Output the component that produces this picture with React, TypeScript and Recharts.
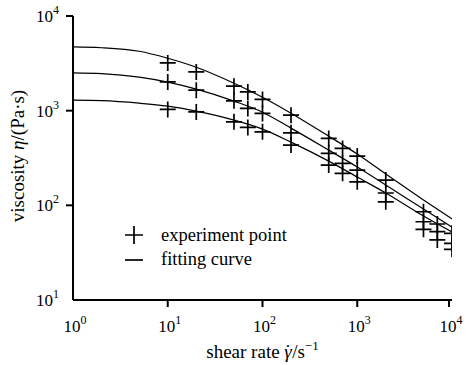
import { ComposedChart, Line, Scatter, XAxis, YAxis, Legend } from 'recharts'

// shear rates of the measured points (s^-1)
const shearRates = [10, 20, 50, 70, 100, 200, 500, 700, 1000, 2000, 5000, 7000, 10000]
const pointsHigh = [3194, 2567, 1813, 1579, 1313, 896, 509, 399, 331, 185, 85.6, 63.5, 50.6]
const pointsMid = [2013, 1645, 1269, 1055, 934, 583, 354, 277, 236, 135, 67.1, 52.7, 39.7]
const pointsLow = [1030, 971, 762, 665, 598, 433, 266, 218, 177, 109, 55.8, 43.1, 34.3]

// fitted curves read at these shear rates
const fitRates = [1, 2, 5, 10, 20, 50, 100, 200, 500, 1000, 2000, 5000, 10000]
const fitHigh = [4710, 4620, 4240, 3580, 2877, 1950, 1388, 941, 538, 348, 214, 114, 71.7]
const fitMid = [2504, 2457, 2256, 1998, 1686, 1260, 964, 654, 383, 254, 164, 91.4, 59.0]
const fitLow = [1290, 1275, 1200, 1116, 988, 794, 638, 465, 293, 199, 135, 77.1, 52.3]

const xTicks = [1, 10, 100, 1000, 10000]
const yTicks = [10, 100, 1000, 10000]

const serif = { fontFamily: "'Liberation Serif', 'DejaVu Serif', serif" }

const toPoints = (xs: number[], ys: number[]) => xs.map((x, i) => ({ x, y: ys[i] }))

const Cross = (props: any) => {
  const { cx, cy } = props
  if (cx == null || cy == null) return null
  return <path d={`M${cx - 8},${cy}h16M${cx},${cy - 8}v16`} stroke="#000" strokeWidth={1.7} fill="none" />
}

const XTick = (props: any) => {
  const { x, y, payload } = props
  const exp = Math.round(Math.log10(payload.value))
  return (
    <g>
      {payload.value !== 1 && <line x1={x} x2={x} y1={y} y2={y + 7} stroke="#000" strokeWidth={2} />}
      <text x={x + 2} y={y + 32} textAnchor="middle" style={serif} fontSize={17} fill="#000">
        10<tspan dy={-8} fontSize={12}>{exp}</tspan>
      </text>
    </g>
  )
}

const YTick = (props: any) => {
  const { x, y, payload } = props
  const exp = Math.round(Math.log10(payload.value))
  return (
    <g>
      {payload.value !== 10 && <line x1={x - 7} x2={x} y1={y} y2={y} stroke="#000" strokeWidth={2} />}
      <text x={x - 14} y={y + 6} textAnchor="end" style={serif} fontSize={17} fill="#000">
        10<tspan dy={-8} fontSize={12}>{exp}</tspan>
      </text>
    </g>
  )
}

const XTitle = (props: any) => {
  const { viewBox } = props
  const cx = viewBox.x + viewBox.width / 2
  return (
    <text x={cx} y={viewBox.y + 58} textAnchor="middle" style={serif} fontSize={19} fill="#000">
      shear rate <tspan fontStyle="italic">γ</tspan>
      <tspan dx={-7}>˙</tspan>
      <tspan dx={1}>/s</tspan>
      <tspan dy={-8} fontSize={13}>−1</tspan>
    </text>
  )
}

const YTitle = (props: any) => {
  const { viewBox } = props
  const cy = viewBox.y + viewBox.height / 2 - 2
  const bx = 24
  return (
    <text x={bx} y={cy} transform={`rotate(-90, ${bx}, ${cy})`} textAnchor="middle" style={serif} fontSize={19} fill="#000">
      viscosity <tspan fontStyle="italic">η</tspan>/(Pa·s)
    </text>
  )
}

const LegendBox = () => (
  <svg width={220} height={60}>
    <path d="M7,13h18M16,4v18" stroke="#000" strokeWidth={1.7} />
    <text x={43} y={19} style={serif} fontSize={18.5} fill="#000">experiment point</text>
    <path d="M7,38h18" stroke="#000" strokeWidth={1.7} />
    <text x={43} y={43} style={serif} fontSize={18.5} fill="#000">fitting curve</text>
  </svg>
)

export default function App() {
  const curves = [fitHigh, fitMid, fitLow]
  const points = [pointsHigh, pointsMid, pointsLow]
  return (
    <div style={{ position: 'absolute', left: 0, top: 0, width: 469, height: 365, background: '#fff' }}>
      <ComposedChart width={469} height={365} margin={{ top: 16, right: 17, bottom: 0, left: 0 }}>
        <XAxis
          dataKey="x"
          type="number"
          scale="log"
          domain={[1, 10000]}
          ticks={xTicks}
          allowDataOverflow
          height={65}
          tickSize={0}
          tickMargin={0}
          tickLine={false}
          tick={<XTick />}
          axisLine={{ stroke: '#000', strokeWidth: 2 }}
          label={<XTitle />}
        />
        <YAxis
          dataKey="y"
          type="number"
          scale="log"
          domain={[10, 10000]}
          ticks={yTicks}
          allowDataOverflow
          width={73}
          tickSize={0}
          tickMargin={0}
          tickLine={false}
          tick={<YTick />}
          axisLine={{ stroke: '#000', strokeWidth: 2 }}
          label={<YTitle />}
        />
        <Legend
          layout="vertical"
          align="center"
          verticalAlign="middle"
          wrapperStyle={{ left: 118, top: 222, width: 220 }}
          content={() => <LegendBox />}
        />
        {curves.map((c, i) => (
          <Line
            key={`fit${i}`}
            data={toPoints(fitRates, c)}
            dataKey="y"
            type="monotone"
            stroke="#000"
            strokeWidth={1.2}
            dot={false}
            isAnimationActive={false}
            legendType="none"
          />
        ))}
        {points.map((p, i) => (
          <Scatter
            key={`pts${i}`}
            data={toPoints(shearRates, p)}
            dataKey="y"
            shape={<Cross />}
            isAnimationActive={false}
            legendType="none"
          />
        ))}
      </ComposedChart>
    </div>
  )
}
